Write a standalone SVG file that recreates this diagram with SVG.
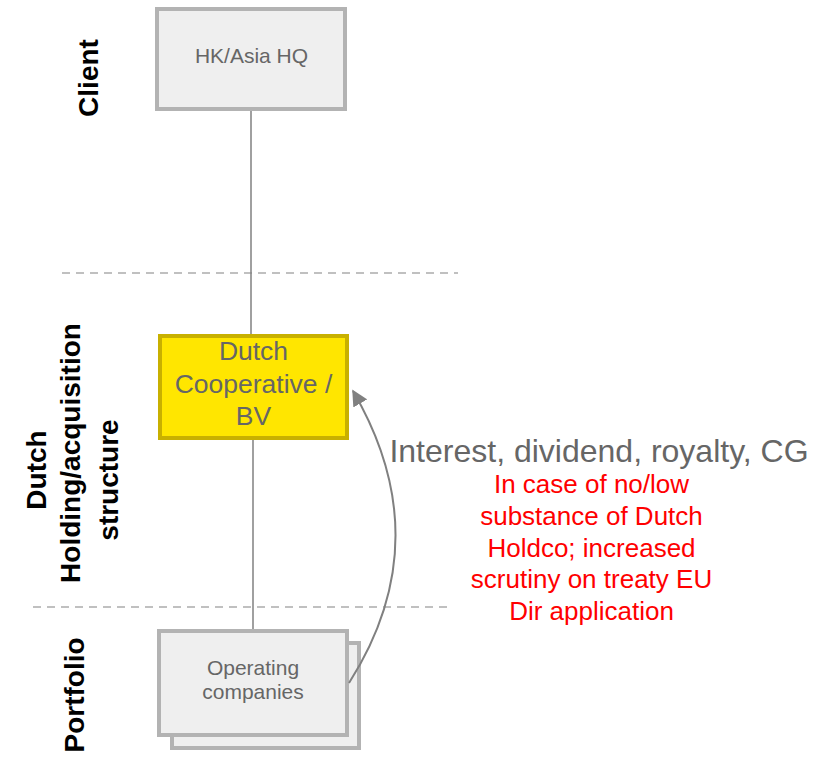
<svg xmlns="http://www.w3.org/2000/svg" width="817" height="758" viewBox="0 0 817 758">
<style>
.box{fill:#efefef;stroke:#b3b3b3;stroke-width:4}
.lbl{font-family:"Liberation Sans",Arial,sans-serif;font-weight:bold;fill:#000;font-size:28px;text-anchor:middle}
.gt{font-family:"Liberation Sans",Arial,sans-serif;fill:#666;text-anchor:middle}
.rt{font-family:"Liberation Sans",Arial,sans-serif;fill:#ff0000;font-size:26px;text-anchor:middle}
.dash{stroke:#c0c0c0;stroke-width:2;stroke-dasharray:8 6;fill:none}
.conn{stroke:#808080;stroke-width:1.5;fill:none}
</style>
<defs>
<marker id="ah" viewBox="0 0 10 10" refX="9" refY="5" markerWidth="8" markerHeight="8" orient="auto" markerUnits="strokeWidth">
<path d="M0,0 L10,5 L0,10 z" fill="#808080"/>
</marker>
</defs>
<g id="lanes">
<line class="dash" x1="62" y1="273" x2="458" y2="273"/>
<line class="dash" x1="33" y1="607" x2="452" y2="607"/>
<text class="lbl" transform="translate(98,78) rotate(-90)">Client</text>
<text class="lbl" transform="translate(46,470) rotate(-90)">Dutch</text>
<text class="lbl" transform="translate(80,453) rotate(-90)">Holding/acquisition</text>
<text class="lbl" transform="translate(118,480) rotate(-90)">structure</text>
<text class="lbl" transform="translate(84,695) rotate(-90)">Portfolio</text>
</g>
<g id="hq">
<rect class="box" x="157" y="9" width="188" height="100"/>
<text class="gt" x="251.5" y="63" font-size="21">HK/Asia HQ</text>
</g>
<g id="dutch">
<rect x="160" y="336" width="187" height="102" fill="#ffe600" stroke="#c8b000" stroke-width="4"/>
<text class="gt" font-size="26.5" x="253.5" y="360">Dutch</text>
<text class="gt" font-size="26.5" x="253.5" y="393">Cooperative /</text>
<text class="gt" font-size="26.5" x="253.5" y="425">BV</text>
</g>
<g id="opco">
<rect class="box" x="172" y="643" width="187" height="105"/>
<rect class="box" x="159" y="631" width="188" height="104"/>
<text class="gt" font-size="21" x="253" y="675">Operating</text>
<text class="gt" font-size="21" x="253" y="699">companies</text>
</g>
<g id="connectors">
<line class="conn" x1="251" y1="111" x2="251" y2="334"/>
<line class="conn" x1="253" y1="440" x2="253" y2="629"/>
<path d="M349,683 Q440,540 353,391" stroke="#808080" stroke-width="2" fill="none" marker-end="url(#ah)"/>
</g>
<g id="flow-label">
<text class="gt" font-size="32" x="599" y="462">Interest, dividend, royalty, CG</text>
<text class="rt" x="591.5" y="493">In case of no/low</text>
<text class="rt" x="591.5" y="525">substance of Dutch</text>
<text class="rt" x="591.5" y="557">Holdco; increased</text>
<text class="rt" x="591.5" y="588">scrutiny on treaty EU</text>
<text class="rt" x="591.5" y="620">Dir application</text>
</g>
</svg>
